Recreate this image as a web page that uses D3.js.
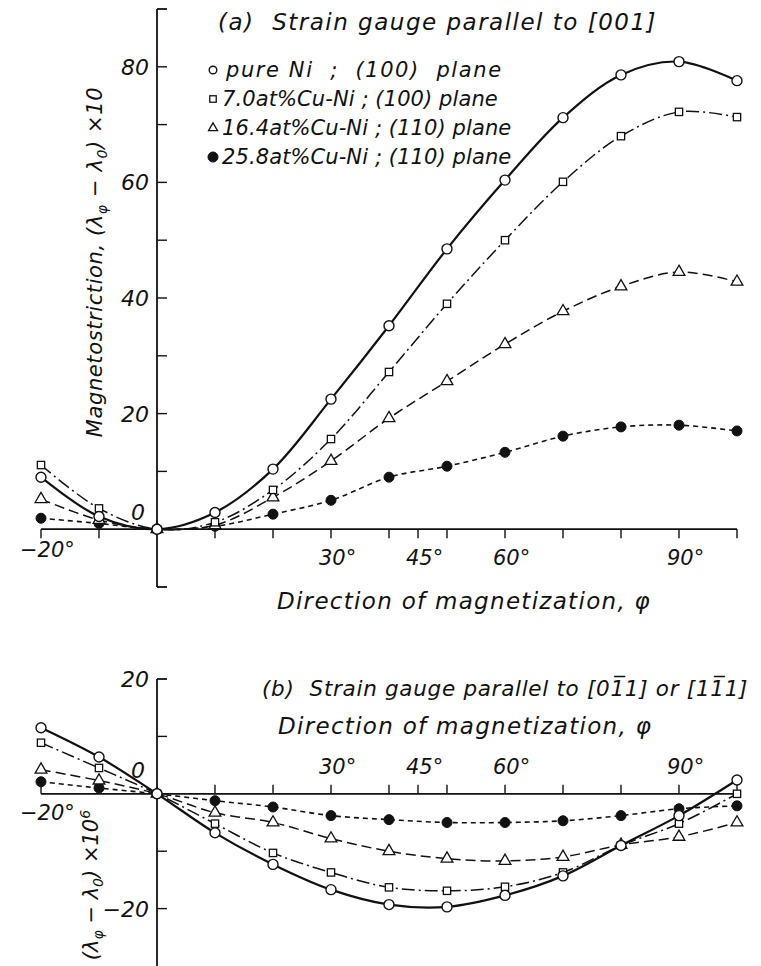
<html>
<head>
<meta charset="utf-8">
<script src="https://d3js.org/d3.v7.min.js"></script>
<style>
body { margin: 0; background: #fff; }
text { font-family: "DejaVu Sans", sans-serif; font-style: italic; fill: #111; white-space: pre; }
</style>
</head>
<body>
<svg id="chart" width="761" height="966"></svg>
<script>
// angles of magnetization (deg)
var angles = [-20, -10, 0, 10, 20, 30, 40, 50, 60, 70, 80, 90, 100];

// (a) gauge parallel to [001], values x10^-6 /10
var aPureNi = [9.0, 2.2, 0, 2.9, 10.4, 22.5, 35.2, 48.5, 60.4, 71.2, 78.6, 80.9, 77.6];
var aCu70   = [11.1, 3.6, 0, 1.2, 6.8, 15.6, 27.2, 39.0, 50.0, 60.1, 68.0, 72.2, 71.3];
var aCu164  = [5.2, 1.6, 0, 0.7, 5.5, 11.8, 19.2, 25.6, 32.0, 37.7, 42.0, 44.5, 42.8];
var aCu258  = [1.9, 1.0, 0, 0.5, 2.6, 5.0, 9.0, 10.9, 13.3, 16.1, 17.7, 18.0, 17.0];

// (b) gauge parallel to [01-1] or [11-1], values x10^-6
var bPureNi = [11.5, 6.4, 0, -6.8, -12.3, -16.7, -19.3, -19.7, -17.7, -14.3, -9.0, -3.8, 2.4];
var bCu70   = [8.9, 4.5, 0, -5.2, -10.3, -13.7, -16.3, -16.9, -16.2, -13.7, -9.0, -5.2, 0.0];
var bCu164  = [4.2, 2.3, 0, -3.3, -5.0, -7.8, -10.0, -11.3, -11.7, -11.0, -8.9, -7.5, -5.0];
var bCu258  = [2.1, 1.0, 0, -1.2, -2.3, -3.8, -4.5, -5.0, -5.0, -4.7, -3.8, -2.6, -2.1];

var legendLabels = ["pure Ni  ;  (100)  plane", "7.0at%Cu-Ni ; (100) plane",
                    "16.4at%Cu-Ni ; (110) plane", "25.8at%Cu-Ni ; (110) plane"];
var xTickLabels = [30, 45, 60, 90];
var yTickA = [0, 20, 40, 60, 80];
var yTickB = [20, 0, -20];

var svg = d3.select("#chart");

var x = d3.scaleLinear().domain([-20, 100]).range([41, 737]);
var ya = d3.scaleLinear().domain([-10, 90]).range([587, 9]);
var yb = d3.scaleLinear().domain([-30, 20]).range([966, 679]);

var styles = [
  {marker: "circle", dash: null, width: 2.2},
  {marker: "square", dash: "13,4,2,4", width: 1.5},
  {marker: "triangle", dash: "10,5", width: 1.5},
  {marker: "dot", dash: "5,4", width: 1.6}
];

function drawMarker(g, type, cx, cy, s) {
  if (type == "circle") {
    g.append("circle").attr("cx", cx).attr("cy", cy).attr("r", s)
      .attr("fill", "#fff").attr("stroke", "#111").attr("stroke-width", 1.4);
  } else if (type == "square") {
    g.append("rect").attr("x", cx - s * 0.85).attr("y", cy - s * 0.85)
      .attr("width", s * 1.7).attr("height", s * 1.7)
      .attr("fill", "#fff").attr("stroke", "#111").attr("stroke-width", 1.3);
  } else if (type == "triangle") {
    g.append("path").attr("d", d3.symbol().type(d3.symbolTriangle).size(s * s * 2.4)())
      .attr("transform", "translate(" + cx + "," + cy + ")")
      .attr("fill", "#fff").attr("stroke", "#111").attr("stroke-width", 1.3);
  } else {
    g.append("circle").attr("cx", cx).attr("cy", cy).attr("r", s)
      .attr("fill", "#111").attr("stroke", "#111");
  }
}

function drawSeries(series, y, curve) {
  var g = svg.append("g");
  var line = d3.line()
    .x(function(d) { return x(d[0]); })
    .y(function(d) { return y(d[1]); })
    .curve(curve);
  // lines first, markers on top
  series.forEach(function(vals, i) {
    var pts = angles.map(function(a, k) { return [a, vals[k]]; });
    g.append("path").datum(pts).attr("d", line)
      .attr("fill", "none").attr("stroke", "#111")
      .attr("stroke-width", styles[i].width)
      .attr("stroke-dasharray", styles[i].dash);
  });
  for (var i = series.length - 1; i >= 0; i--) {
    angles.forEach(function(a, k) {
      drawMarker(g, styles[i].marker, x(a), y(series[i][k]), i == 1 ? 4.3 : 5);
    });
  }
}

// ---------- panel (a) ----------
var axA = svg.append("g").attr("stroke", "#111").attr("stroke-width", 1.8);
axA.append("line").attr("x1", x(0)).attr("x2", x(0)).attr("y1", ya(90)).attr("y2", ya(-10));
axA.append("line").attr("x1", x(0)).attr("x2", x(0) + 10).attr("y1", ya(90)).attr("y2", ya(90));
axA.append("line").attr("x1", x(0)).attr("x2", x(0) + 10).attr("y1", ya(-10)).attr("y2", ya(-10));
d3.range(10, 90, 10).forEach(function(v) {
  axA.append("line").attr("x1", x(0)).attr("x2", x(0) + 10).attr("y1", ya(v)).attr("y2", ya(v)).attr("stroke-width", 1.4);
});
axA.append("line").attr("x1", x(-20)).attr("x2", x(100)).attr("y1", ya(0)).attr("y2", ya(0));
d3.range(-20, 101, 10).forEach(function(v) {
  if (v == 0) return;
  axA.append("line").attr("x1", x(v)).attr("x2", x(v)).attr("y1", ya(0)).attr("y2", ya(0) + 9).attr("stroke-width", 1.4);
});
axA.append("line").attr("x1", x(45)).attr("x2", x(45)).attr("y1", ya(0)).attr("y2", ya(0) + 9).attr("stroke-width", 1.4);

yTickA.forEach(function(v) {
  svg.append("text").attr("x", v == 0 ? 145 : 149).attr("y", v == 0 ? ya(0) - 9 : ya(v) + 8)
    .attr("text-anchor", "end").attr("font-size", 22).text(v);
});
xTickLabels.forEach(function(v) {
  svg.append("text").attr("x", x(v) - 12).attr("y", ya(0) + 36)
    .attr("font-size", 21).text(v + "°");
});
svg.append("text").attr("x", 20).attr("y", ya(0) + 28).attr("font-size", 21).text("−20°");

drawSeries([aPureNi, aCu70, aCu164, aCu258], ya, d3.curveCatmullRom.alpha(0.5));

svg.append("text").attr("x", 218).attr("y", 30).attr("font-size", 23)
  .attr("letter-spacing", 1.5).text("(a)  Strain gauge parallel to [001]");

legendLabels.forEach(function(t, i) {
  var cy = 70 + i * 29;
  var lg = svg.append("g");
  drawMarker(lg, styles[i].marker, 213, cy, i == 3 ? 5 : 3.8);
  svg.append("text").attr("x", i == 0 ? 226 : 222).attr("y", cy + 7).attr("font-size", 21)
    .attr("letter-spacing", i == 0 ? 1.6 : 0.1).text(t);
});

var labA = svg.append("text").attr("transform", "translate(102,262) rotate(-90)")
  .attr("text-anchor", "middle").attr("font-size", 21).attr("letter-spacing", 0.6);
labA.append("tspan").text("Magnetostriction, (λ");
labA.append("tspan").attr("font-size", 14).attr("dy", 5).text("φ");
labA.append("tspan").attr("dy", -5).text(" − λ");
labA.append("tspan").attr("font-size", 14).attr("dy", 5).text("0");
labA.append("tspan").attr("dy", -5).text(") ×10");

svg.append("text").attr("x", 464).attr("y", 609).attr("text-anchor", "middle")
  .attr("font-size", 23).attr("letter-spacing", 1.3).text("Direction of magnetization, φ");

// ---------- panel (b) ----------
var axB = svg.append("g").attr("stroke", "#111").attr("stroke-width", 1.8);
axB.append("line").attr("x1", x(0)).attr("x2", x(0)).attr("y1", yb(20)).attr("y2", yb(-30));
axB.append("line").attr("x1", x(0)).attr("x2", x(0) + 10).attr("y1", yb(20)).attr("y2", yb(20));
d3.range(-20, 20, 10).forEach(function(v) {
  axB.append("line").attr("x1", x(0)).attr("x2", x(0) + 10).attr("y1", yb(v)).attr("y2", yb(v)).attr("stroke-width", 1.4);
});
axB.append("line").attr("x1", x(-20)).attr("x2", x(100)).attr("y1", yb(0)).attr("y2", yb(0));
d3.range(-20, 101, 10).forEach(function(v) {
  if (v == 0 || v == -10) return;
  axB.append("line").attr("x1", x(v)).attr("x2", x(v)).attr("y1", yb(0)).attr("y2", yb(0) - 9).attr("stroke-width", 1.4);
});
axB.append("line").attr("x1", x(45)).attr("x2", x(45)).attr("y1", yb(0)).attr("y2", yb(0) - 9).attr("stroke-width", 1.4);

yTickB.forEach(function(v) {
  svg.append("text").attr("x", v == 0 ? 145 : 149).attr("y", v == 0 ? yb(0) - 16 : yb(v) + 8)
    .attr("text-anchor", "end").attr("font-size", 22).text(v == 0 ? "0" : (v < 0 ? "−" + (-v) : v));
});
xTickLabels.forEach(function(v) {
  svg.append("text").attr("x", x(v) - 12).attr("y", yb(0) - 20)
    .attr("font-size", 21).text(v + "°");
});
svg.append("text").attr("x", 20).attr("y", yb(0) + 26).attr("font-size", 21).text("−20°");

drawSeries([bPureNi, bCu70, bCu164, bCu258], yb, d3.curveCatmullRom.alpha(0.5));

svg.append("text").attr("x", 262).attr("y", 696).attr("font-size", 21.5)
  .attr("letter-spacing", 0.7).text("(b)  Strain gauge parallel to [01\u03051] or [11\u03051]");
svg.append("text").attr("x", 278).attr("y", 734).attr("font-size", 23)
  .attr("letter-spacing", 1.3).text("Direction of magnetization, φ");

var labB = svg.append("text").attr("transform", "translate(98,885) rotate(-90)")
  .attr("text-anchor", "middle").attr("font-size", 21);
labB.append("tspan").text("(λ");
labB.append("tspan").attr("font-size", 14).attr("dy", 5).text("φ");
labB.append("tspan").attr("dy", -5).text(" − λ");
labB.append("tspan").attr("font-size", 14).attr("dy", 5).text("0");
labB.append("tspan").attr("dy", -5).text(") ×10");
labB.append("tspan").attr("font-size", 14).attr("dy", -8).text("6");
</script>
</body>
</html>
